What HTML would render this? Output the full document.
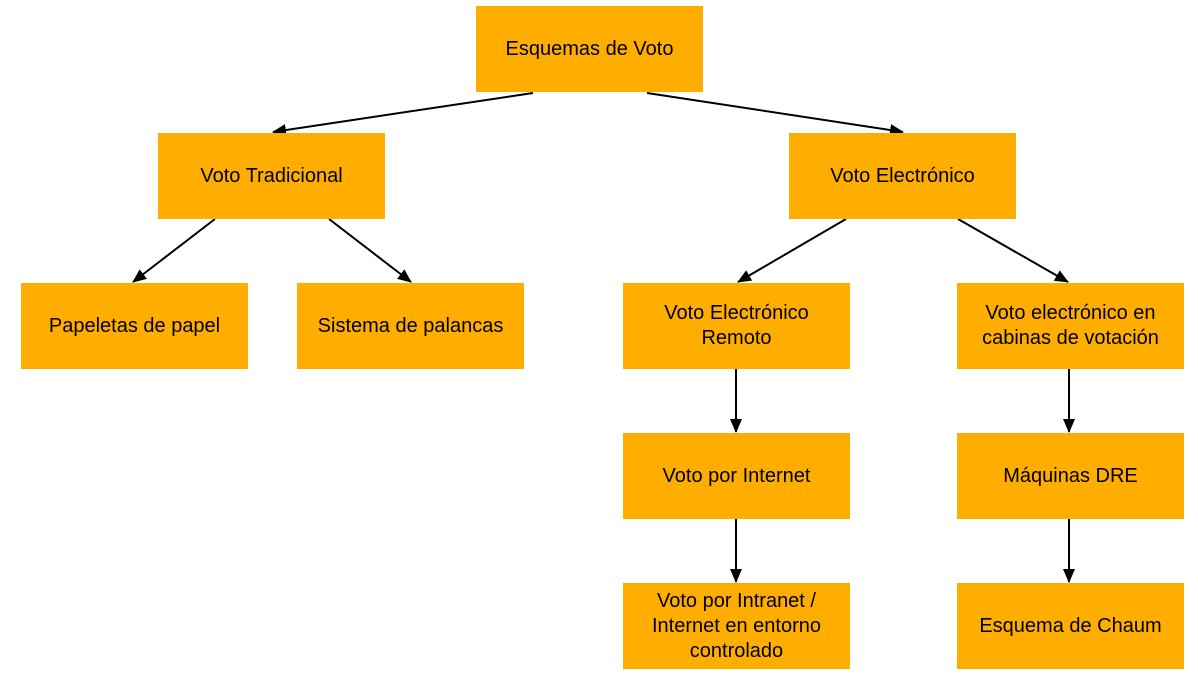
<!DOCTYPE html>
<html><head><meta charset="utf-8"><style>
body{margin:0;width:1198px;height:684px;background:#fff;position:relative;overflow:hidden;font-family:"Liberation Sans",Arial,sans-serif}
.b{position:absolute;width:227px;height:86px;background:#FFAE00;display:flex;align-items:center;justify-content:center;text-align:center;font-size:20px;line-height:25px;color:#000}
svg{position:absolute;left:0;top:0}
</style></head><body>
<svg width="1198" height="684">
<defs><marker id="a" markerWidth="14" markerHeight="12" refX="13" refY="6" orient="auto" markerUnits="userSpaceOnUse"><path d="M0,0 L14,6 L0,12 z" fill="#000"/></marker></defs>
<g stroke="#000" stroke-width="2" marker-end="url(#a)">
<line x1="533" y1="93" x2="273" y2="132"/>
<line x1="647" y1="93" x2="903" y2="132"/>
<line x1="215" y1="219" x2="133" y2="282"/>
<line x1="329" y1="219" x2="411" y2="282"/>
<line x1="846" y1="219" x2="738" y2="282"/>
<line x1="958" y1="219" x2="1068" y2="282"/>
<line x1="736" y1="369" x2="736" y2="432"/>
<line x1="736" y1="519" x2="736" y2="582"/>
<line x1="1069" y1="369" x2="1069" y2="432"/>
<line x1="1069" y1="519" x2="1069" y2="582"/>
</g></svg>
<div class="b" style="left:476px;top:6px">Esquemas de Voto</div>
<div class="b" style="left:158px;top:133px">Voto Tradicional</div>
<div class="b" style="left:789px;top:133px">Voto Electrónico</div>
<div class="b" style="left:21px;top:283px">Papeletas de papel</div>
<div class="b" style="left:297px;top:283px">Sistema de palancas</div>
<div class="b" style="left:623px;top:283px">Voto Electrónico<br>Remoto</div>
<div class="b" style="left:957px;top:283px">Voto electrónico en<br>cabinas de votación</div>
<div class="b" style="left:623px;top:433px">Voto por Internet</div>
<div class="b" style="left:957px;top:433px">Máquinas DRE</div>
<div class="b" style="left:623px;top:583px">Voto por Intranet /<br>Internet en entorno<br>controlado</div>
<div class="b" style="left:957px;top:583px">Esquema de Chaum</div>
</body></html>
